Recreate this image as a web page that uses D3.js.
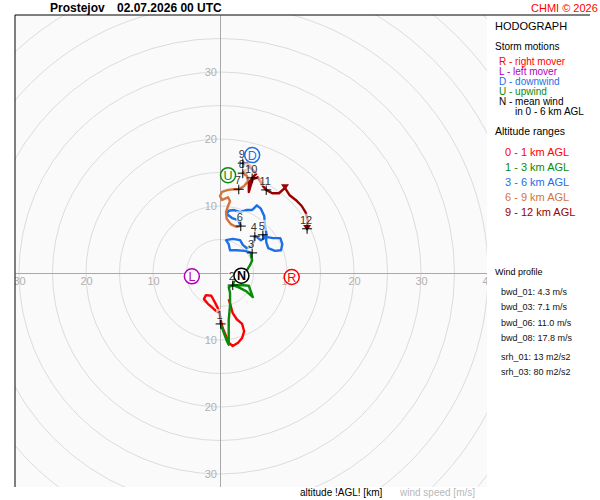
<!DOCTYPE html>
<html>
<head>
<meta charset="utf-8">
<script src="https://cdn.jsdelivr.net/npm/d3@7"></script>
<style>
  body { margin: 0; background: #fff; }
  text { font-family: "Liberation Sans", Arial, sans-serif; }
</style>
</head>
<body>
<script>
// Station / header
var station = "Prostejov";
var runTime = "02.07.2026 00 UTC";

// Hodograph segments (u, v in m/s), one pair per altitude range
var u01 = [1.3, 1.6, 1.9, 2.5, 3.3, 3.6, 3.3, 2.7, 1.9, 1.3, 0.9, 0.4, 0.1, -0.1, -0.9, -1.8, -2.4, -2.1, -1.3, -0.7, -0.1, 0.1, 0.1];
var v01 = [-3.9, -4.9, -6.0, -6.9, -7.6, -8.7, -9.7, -10.4, -10.9, -10.4, -9.4, -8.2, -7.0, -6.0, -5.4, -4.6, -3.9, -3.3, -3.4, -4.5, -5.7, -6.7, -7.6];

var u13 = [0.1, 0.6, 1.0, 1.3, 1.3, 1.3, 1.5, 1.5, 1.3, 1.8, 3.1, 4.3, 4.9, 3.9, 2.7, 1.9, 2.2, 3.0, 4.0, 4.5, 4.8, 4.6, 4.8];
var v13 = [-7.6, -9.0, -10.1, -10.7, -9.3, -7.0, -4.8, -3.0, -2.1, -1.9, -1.8, -1.9, -3.6, -2.7, -2.1, -1.8, -1.0, -0.3, 0.4, 1.2, 1.9, 2.7, 3.0];

var u36 = [4.8, 3.7, 2.5, 1.5, 1.3, 0.9, 1.9, 3.0, 3.4, 4.0, 4.8, 5.1, 5.2, 5.7, 6.1, 6.6, 6.4, 6.9, 7.9, 9.0, 9.3, 9.1, 8.2, 7.2, 6.9, 6.9, 6.7, 6.6, 6.1, 5.5, 4.8, 3.9, 3.0, 2.1, 1.3, 1.0, 1.8, 2.7, 3.1];
var v36 = [3.0, 3.3, 3.4, 3.4, 4.3, 4.9, 5.1, 4.9, 4.2, 3.7, 4.0, 4.9, 5.5, 5.2, 4.9, 5.2, 5.7, 5.4, 5.2, 5.2, 4.3, 3.4, 3.3, 3.7, 4.6, 6.0, 7.3, 8.5, 9.6, 10.1, 9.4, 9.4, 9.1, 9.4, 9.3, 8.8, 8.2, 7.9, 7.0];

var u69 = [3.1, 2.4, 1.6, 1.0, 0.9, 1.2, 1.5, 1.2, 0.3, 0.0, 0.3, 1.2, 2.1, 2.8, 3.6, 4.2, 4.0, 3.4, 4.0, 4.6, 4.0, 3.4];
var v69 = [7.0, 6.9, 7.3, 8.1, 9.1, 10.0, 10.7, 11.3, 10.9, 11.5, 12.1, 12.4, 12.5, 12.5, 13.0, 13.7, 14.5, 14.9, 15.5, 16.0, 16.4, 16.4];

var u912 = [3.4, 4.2, 4.9, 5.4, 4.8, 4.3, 4.3, 4.6, 4.9, 5.7, 6.0, 6.4, 6.9, 7.8, 8.8, 9.7, 10.4, 11.3, 12.2, 12.8, 13.1, 13.0];
var v912 = [16.4, 16.0, 15.4, 14.8, 14.2, 13.4, 12.1, 13.1, 14.0, 14.3, 13.7, 13.0, 12.4, 11.9, 11.9, 12.7, 11.6, 10.9, 10.0, 9.0, 7.8, 6.6];

// km markers along the hodograph
var kmLabels = ["1", "2", "3", "4", "5", "6", "7", "8", "9", "10", "11", "12"];
var kmU = [0.1, 1.9, 4.8, 5.2, 6.4, 3.1, 2.8, 3.4, 3.4, 4.8, 6.9, 13.0];
var kmV = [-7.6, -1.8, 3.0, 5.5, 5.7, 7.0, 12.5, 14.9, 16.4, 14.2, 12.4, 6.6];

// small triangles on the upper segment
var triU = [9.7, 13.0];
var triV = [12.8, 6.7];

// storm motions
var motionLetters = ["L", "R", "U", "D", "N"];
var motionU = [-4.2, 10.7, 1.2, 4.8, 3.2];
var motionV = [-0.5, -0.6, 14.6, 17.6, -0.4];

// legend texts
var motionLegend = ["R - right mover", "L - left mover", "D - downwind", "U - upwind", "N - mean wind"];
var rangeLegend = ["0 - 1 km AGL", "1 - 3 km AGL", "3 - 6 km AGL", "6 - 9 km AGL", "9 - 12 km AGL"];
var profileLines = ["bwd_01: 4.3 m/s", "bwd_03: 7.1 m/s", "bwd_06: 11.0 m/s", "bwd_08: 17.8 m/s"];
var srhLines = ["srh_01: 13 m2/s2", "srh_03: 80 m2/s2"];

// axis ticks and rings
var xTicks = [-30, -20, -10, 10, 20, 30, 40];
var yTicks = [-30, -20, -10, 10, 20, 30];
var rings = d3.range(5, 65, 5);

// colours
var rangeColors = ["#ff0000", "#0a8a0a", "#1e6ee8", "#d2743e", "#9a0000"];
var motionColors = { R: "#ff0000", L: "#b000b8", D: "#1e6ee8", U: "#0a8a0a", N: "#000" };
var motionLegendColors = ["#ff0000", "#b000b8", "#1e6ee8", "#0a8a0a", "#000"];

var svg = d3.select("body").append("svg")
  .attr("width", 600)
  .attr("height", 500);

// plot box
var boxL = 15, boxT = 15, boxR = 487, boxB = 487;
var cx = 220, cy = 273, ppu = 6.7;

var x = d3.scaleLinear()
  .domain([(boxL - cx) / ppu, (boxR - cx) / ppu])
  .range([boxL, boxR]);
var y = d3.scaleLinear()
  .domain([(cy - boxT) / ppu, (cy - boxB) / ppu])
  .range([boxT, boxB]);

svg.append("defs").append("clipPath").attr("id", "plotclip")
  .append("rect")
  .attr("x", boxL).attr("y", boxT)
  .attr("width", boxR - boxL).attr("height", boxB - boxT);

svg.append("rect")
  .attr("x", boxL).attr("y", boxT)
  .attr("width", boxR - boxL).attr("height", boxB - boxT)
  .attr("fill", "#fafafa");

var plot = svg.append("g").attr("clip-path", "url(#plotclip)");

// speed rings
plot.selectAll(".ring").data(rings).enter().append("circle")
  .attr("class", "ring")
  .attr("cx", x(0)).attr("cy", y(0))
  .attr("r", d => x(d) - x(0))
  .attr("fill", "none")
  .attr("stroke", "#dcdcdc")
  .attr("stroke-width", 1);

// axes through the origin
var xAxis = plot.append("g")
  .attr("transform", "translate(0," + y(0) + ")")
  .call(d3.axisBottom(x).tickValues(xTicks).tickSize(0).tickPadding(4).tickFormat(d => Math.abs(d)));
var yAxis = plot.append("g")
  .attr("transform", "translate(" + x(0) + ",0)")
  .call(d3.axisLeft(y).tickValues(yTicks).tickSize(0).tickPadding(3).tickFormat(d => Math.abs(d)));

[xAxis, yAxis].forEach(a => {
  a.select(".domain").attr("stroke", "#a8a8a8");
  a.selectAll("text")
    .attr("fill", "#b0b0b0")
    .style("font-size", "11px")
    .style("font-family", "'Liberation Sans', Arial, sans-serif");
});

// hodograph segments
var segments = [[u01, v01], [u13, v13], [u36, v36], [u69, v69], [u912, v912]];
var line = d3.line()
  .x(d => x(d[0]))
  .y(d => y(d[1]));

segments.forEach((seg, i) => {
  var pts = seg[0].map((u, j) => [u, seg[1][j]]);
  plot.append("path")
    .datum(pts)
    .attr("d", line)
    .attr("fill", "none")
    .attr("stroke", rangeColors[i])
    .attr("stroke-width", 2.4)
    .attr("stroke-linejoin", "round");
});

// triangles
plot.selectAll(".tri").data(triU).enter().append("path")
  .attr("class", "tri")
  .attr("transform", (d, i) => "translate(" + x(d) + "," + y(triV[i]) + ")")
  .attr("d", "M-4,-3L4,-3L0,3Z")
  .attr("fill", "#9a0000");

// km crosses
var km = plot.selectAll(".km").data(kmLabels).enter().append("g")
  .attr("class", "km")
  .attr("transform", (d, i) => "translate(" + x(kmU[i]) + "," + y(kmV[i]) + ")");

km.append("path")
  .attr("d", "M-5,0H5M0,-5V5")
  .attr("stroke", "#000")
  .attr("stroke-width", 1);

km.append("rect")
  .attr("x", d => -d.length * 3.2 - 1.5)
  .attr("y", -15)
  .attr("width", d => d.length * 6.4 + 3)
  .attr("height", 11)
  .attr("fill", "#fff")
  .attr("fill-opacity", 0.6);

km.append("text")
  .attr("x", -1)
  .attr("y", -5)
  .attr("text-anchor", "middle")
  .attr("fill", "#333")
  .style("font-size", "11px")
  .text(d => d);

// storm motion symbols
var sm = plot.selectAll(".sm").data(motionLetters).enter().append("g")
  .attr("class", "sm")
  .attr("transform", (d, i) => "translate(" + x(motionU[i]) + "," + y(motionV[i]) + ")");

sm.append("circle")
  .attr("r", 7.5)
  .attr("fill", "#fff")
  .attr("stroke", d => motionColors[d])
  .attr("stroke-width", 1.5);

sm.append("text")
  .attr("text-anchor", "middle")
  .attr("y", 4.5)
  .attr("fill", d => motionColors[d])
  .style("font-size", "12.5px")
  .style("font-weight", d => d == "N" ? "bold" : "normal")
  .text(d => d);

// frame lines (top and left)
svg.append("line").attr("x1", boxL).attr("x2", 590).attr("y1", boxT).attr("y2", boxT)
  .attr("stroke", "#000").attr("stroke-width", 1);
svg.append("line").attr("x1", boxL).attr("x2", boxL).attr("y1", boxT).attr("y2", boxB)
  .attr("stroke", "#000").attr("stroke-width", 1);

// header
svg.append("text").attr("x", 50).attr("y", 12)
  .style("font-size", "12px").style("font-weight", "bold").text(station);
svg.append("text").attr("x", 117).attr("y", 12)
  .style("font-size", "12px").style("font-weight", "bold").text(runTime);
svg.append("text").attr("x", 531).attr("y", 12)
  .attr("fill", "#ff0000").style("font-size", "11px").text("CHMI \u00a9 2026");

// legend
var lg = svg.append("g");
lg.append("text").attr("x", 495).attr("y", 30).style("font-size", "11px").text("HODOGRAPH");
lg.append("text").attr("x", 495).attr("y", 50).style("font-size", "10px").text("Storm motions");

lg.selectAll(".ml").data(motionLegend).enter().append("text")
  .attr("x", 499)
  .attr("y", (d, i) => 65 + i * 10)
  .attr("fill", (d, i) => motionLegendColors[i])
  .style("font-size", "10px")
  .text(d => d);
lg.append("text").attr("x", 515).attr("y", 115).style("font-size", "10px").text("in 0 - 6 km AGL");

lg.append("text").attr("x", 495).attr("y", 135).style("font-size", "10.5px").text("Altitude ranges");
lg.selectAll(".rl").data(rangeLegend).enter().append("text")
  .attr("x", 505)
  .attr("y", (d, i) => 156 + i * 15)
  .attr("fill", (d, i) => rangeColors[i])
  .style("font-size", "11px")
  .text(d => d);

lg.append("text").attr("x", 495).attr("y", 275).style("font-size", "9px").text("Wind profile");
lg.selectAll(".pl").data(profileLines).enter().append("text")
  .attr("x", 501)
  .attr("y", (d, i) => 295 + i * 15.3)
  .attr("fill", "#111")
  .style("font-size", "9px")
  .text(d => d);
lg.selectAll(".sl").data(srhLines).enter().append("text")
  .attr("x", 501)
  .attr("y", (d, i) => 360 + i * 15)
  .attr("fill", "#111")
  .style("font-size", "9px")
  .text(d => d);

// bottom captions
svg.append("text").attr("x", 300).attr("y", 496).style("font-size", "10px").text("altitude !AGL! [km]");
svg.append("text").attr("x", 400).attr("y", 496).attr("fill", "#b8b8b8").style("font-size", "10px").text("wind speed [m/s]");
</script>
</body>
</html>
